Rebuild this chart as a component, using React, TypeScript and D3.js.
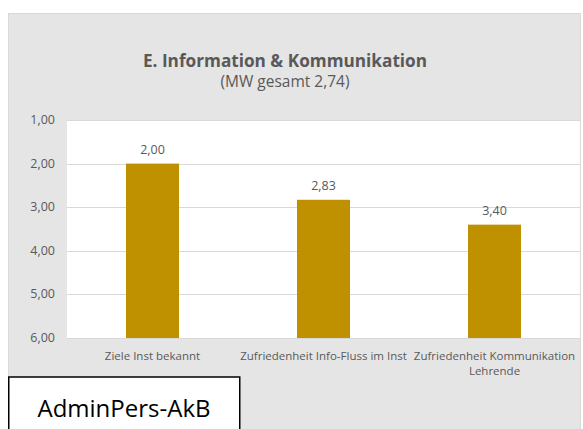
import React, { useRef, useEffect } from "react";
import * as d3 from "d3";

const categories = [
  "Ziele Inst bekannt",
  "Zufriedenheit Info-Fluss im Inst",
  "Zufriedenheit Kommunikation Lehrende",
];
const categoryLines = [
  ["Ziele Inst bekannt"],
  ["Zufriedenheit Info-Fluss im Inst"],
  ["Zufriedenheit Kommunikation", "Lehrende"],
];
const values = [2.0, 2.83, 3.4];
const yTicks = [1, 2, 3, 4, 5, 6];

const title = "E. Information & Kommunikation";
const subtitle = "(MW gesamt 2,74)";
const boxLabel = "AdminPers-AkB";

const fmt = (v: number) => d3.format(".2f")(v).replace(".", ",");

export default function App() {
  const svgRef = useRef<SVGSVGElement>(null);

  useEffect(() => {
    if (!svgRef.current) return;
    const svg = d3.select(svgRef.current);
    svg.selectAll("*").remove();

    const font = "'Open Sans', sans-serif";
    const textColor = "#595959";

    // outer chart area
    svg.append("rect")
      .attr("x", 8.5).attr("y", 13.5)
      .attr("width", 572).attr("height", 420)
      .attr("fill", "#e5e5e5")
      .attr("stroke", "#d9d9d9");

    const plot = { left: 67, right: 580, top: 120, bottom: 338 };

    const y = d3.scaleLinear().domain([1, 6]).range([plot.top, plot.bottom]);
    const x = d3.scaleBand<string>()
      .domain(categories)
      .range([plot.left, plot.right])
      .paddingInner(0.69)
      .paddingOuter(0.345);

    // plot area
    svg.append("rect")
      .attr("x", plot.left).attr("y", plot.top)
      .attr("width", plot.right - plot.left).attr("height", plot.bottom - plot.top)
      .attr("fill", "#ffffff");

    // gridlines
    svg.append("g")
      .selectAll("line")
      .data(yTicks)
      .enter()
      .append("line")
      .attr("x1", plot.left).attr("x2", plot.right)
      .attr("y1", (d) => Math.round(y(d)) + 0.5)
      .attr("y2", (d) => Math.round(y(d)) + 0.5)
      .attr("stroke", "#d9d9d9")
      .attr("stroke-width", 1);

    // y tick labels
    svg.append("g")
      .selectAll("text")
      .data(yTicks)
      .enter()
      .append("text")
      .attr("x", 55)
      .attr("y", (d) => y(d) + 4)
      .attr("text-anchor", "end")
      .attr("font-family", font)
      .attr("font-size", "12.5px")
      .attr("fill", textColor)
      .text((d) => fmt(d));

    // bars
    svg.append("g")
      .selectAll("rect")
      .data(values)
      .enter()
      .append("rect")
      .attr("x", (_, i) => x(categories[i])!)
      .attr("y", (d) => y(d))
      .attr("width", x.bandwidth())
      .attr("height", (d) => y(6) - y(d))
      .attr("fill", "#bf9000");

    // value labels
    svg.append("g")
      .selectAll("text")
      .data(values)
      .enter()
      .append("text")
      .attr("x", (_, i) => x(categories[i])! + x.bandwidth() / 2)
      .attr("y", (d) => y(d) - 10)
      .attr("text-anchor", "middle")
      .attr("font-family", font)
      .attr("font-size", "12.5px")
      .attr("fill", textColor)
      .text((d) => fmt(d));

    // category labels
    const cat = svg.append("g")
      .selectAll("text")
      .data(categories)
      .enter()
      .append("text")
      .attr("x", (d) => x(d)! + x.bandwidth() / 2)
      .attr("y", 360)
      .attr("text-anchor", "middle")
      .attr("font-family", font)
      .attr("font-size", "11.5px")
      .attr("fill", textColor);
    cat.each(function (_, i) {
      const t = d3.select(this);
      const cx = t.attr("x");
      categoryLines[i].forEach((line, j) => {
        t.append("tspan").attr("x", cx).attr("dy", j === 0 ? 0 : 15).text(line);
      });
    });

    // titles
    svg.append("text")
      .attr("x", 285).attr("y", 67)
      .attr("text-anchor", "middle")
      .attr("font-family", font)
      .attr("font-weight", "bold")
      .attr("font-size", "17.2px")
      .attr("fill", textColor)
      .text(title);
    svg.append("text")
      .attr("x", 285).attr("y", 87)
      .attr("text-anchor", "middle")
      .attr("font-family", font)
      .attr("font-size", "15.5px")
      .attr("fill", textColor)
      .text(subtitle);

    // label box
    svg.append("rect")
      .attr("x", 8.75).attr("y", 377)
      .attr("width", 231).attr("height", 60)
      .attr("fill", "#ffffff")
      .attr("stroke", "#000000")
      .attr("stroke-width", 1.5);
    svg.append("text")
      .attr("x", 124).attr("y", 417)
      .attr("text-anchor", "middle")
      .attr("font-family", font)
      .attr("font-size", "24px")
      .attr("fill", "#000000")
      .text(boxLabel);
  }, []);

  return (
    <svg
      ref={svgRef}
      width={583}
      height={429}
      style={{ position: "absolute", left: 0, top: 0, display: "block" }}
    />
  );
}
